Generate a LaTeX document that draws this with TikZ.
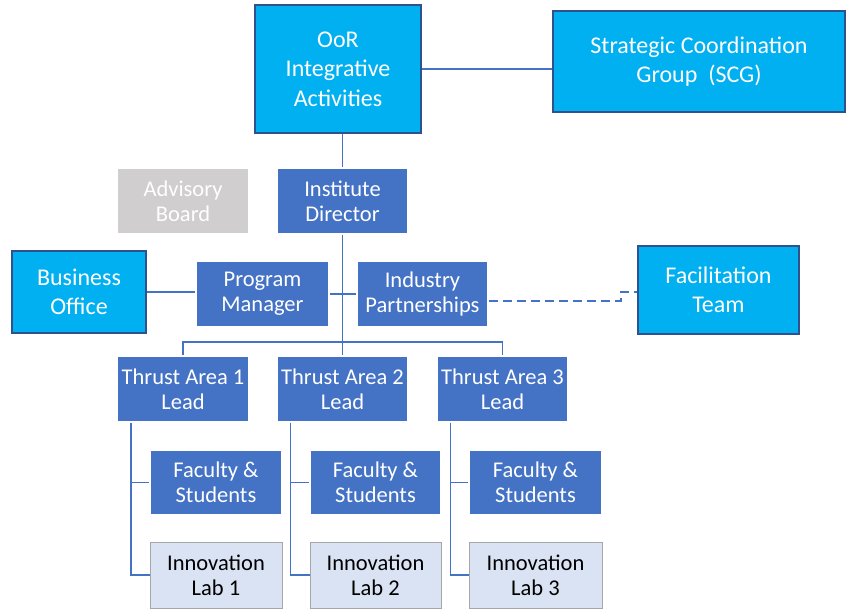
\documentclass[tikz,border=0pt]{standalone}
\usepackage{fontspec}
\setmainfont{Carlito}
\definecolor{cyanfill}{HTML}{00B0F0}
\definecolor{navy}{HTML}{2F528F}
\definecolor{bluefill}{HTML}{4472C4}
\definecolor{labfill}{HTML}{DAE3F3}
\definecolor{labedge}{HTML}{A6A6A6}
\definecolor{greyfill}{HTML}{D0CECE}
\definecolor{linkblue}{HTML}{4472C4}
\begin{document}
\begin{tikzpicture}[x=1pt,y=-1pt,
  base/.style={inner sep=0pt, align=center},
  size/.style 2 args={minimum width=#1, minimum height=#2},
  hub/.style={base, fill=cyanfill, draw=navy, line width=2.2pt, text=white,
    font=\fontsize{24}{29.5}\selectfont},
  unit/.style={base, fill=bluefill, draw=white, line width=1.2pt, text=white,
    font=\fontsize{22.5}{25}\selectfont},
  lab/.style={base, fill=labfill, draw=labedge, line width=0.8pt, text=black,
    font=\fontsize{22.5}{25}\selectfont},
  advisory/.style={base, fill=greyfill, draw=white, line width=1.2pt, text=white,
    font=\fontsize{22.5}{25}\selectfont},
  link/.style={draw=linkblue, line width=1.2pt},
]
\useasboundingbox (0,0) rectangle (846,609);

% top level
\node[hub, size={166}{128}] (oor) at (338,69) {OoR\\Integrative\\Activities};
\node[hub, size={292}{101}] (scg) at (699,61.5) {Strategic Coordination\\Group\ \ (SCG)};

% director row
\node[advisory, size={132}{66}] (adv) at (183,201) {Advisory\\Board};
\node[unit, size={131}{66}] (id) at (342.5,201) {Institute\\Director};

% office row
\node[hub, size={134}{82}] (bo) at (79,292) {Business\\Office};
\node[unit, size={133}{66}] (pm) at (262.5,294) {Program\\Manager};
\node[unit, size={131}{66}] (ip) at (422.5,294) {Industry\\Partnerships};
\node[hub, size={161}{88}] (ft) at (718.5,290) {Facilitation\\Team};

% thrust areas
\node[unit, size={132}{66}] (t1) at (183,389) {Thrust Area 1\\Lead};
\node[unit, size={131}{66}] (t2) at (342.5,389) {Thrust Area 2\\Lead};
\node[unit, size={131}{66}] (t3) at (502.5,389) {Thrust Area 3\\Lead};

\node[unit, size={132}{65}] (f1) at (216,482.5) {Faculty \&\\Students};
\node[unit, size={131}{65}] (f2) at (375.5,482.5) {Faculty \&\\Students};
\node[unit, size={133}{65}] (f3) at (535.5,482.5) {Faculty \&\\Students};

\node[lab, size={132}{66}] (l1) at (216,575) {Innovation\\Lab 1};
\node[lab, size={131}{66}] (l2) at (375.5,575) {Innovation\\Lab 2};
\node[lab, size={133}{66}] (l3) at (535.5,575) {Innovation\\Lab 3};

% connectors
\coordinate (bus) at (0,342);
\coordinate (elbow) at (621,292);

\draw[link] (oor.east |- oor.center) -- (oor.center -| scg.west);
\draw[link] (id.north) -- (id.north |- oor.south);
\draw[link] (id.south) -- (t2.north);
\draw[link] (bo.east) -- (bo.east -| pm.west);
\draw[link] (pm.east) -- (ip.west);
\draw[link, line width=1.5pt, dash pattern=on 9pt off 5pt]
  ([yshift=-7pt]ip.east) coordinate (ipout) -- (ipout -| elbow)
  -- (elbow) -- (elbow -| ft.west);
\draw[link] (t1.north) -- (t1.north |- bus) -- (t3.north |- bus) -- (t3.north);

\foreach \t/\f/\l in {t1/f1/l1, t2/f2/l2, t3/f3/l3}{
  \draw[link] ([xshift=-52pt]\t.south) coordinate (stem) |- (\f.west);
  \draw[link] (stem) |- (\l.west);
}
\end{tikzpicture}
\end{document}
